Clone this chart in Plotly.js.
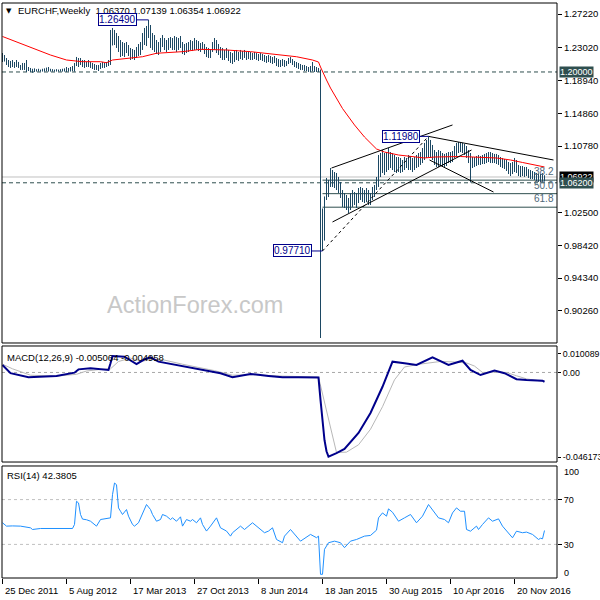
<!DOCTYPE html>
<html><head><meta charset="utf-8">
<script src="https://cdn.plot.ly/plotly-3.0.1.min.js"></script>
<style>html,body{margin:0;padding:0;background:#fff}#chart{width:600px;height:600px}</style>
</head><body><div id="chart"></div>
<script>
// ---- data (weekly bars, index 0 = week of 25 Dec 2011) ----
const xTickIdx = [0,32,64,96,128,160,192,224,256];
const xTickText = ['25 Dec 2011','5 Aug 2012','17 Mar 2013','27 Oct 2013','8 Jun 2014','18 Jan 2015','30 Aug 2015','10 Apr 2016','20 Nov 2016'];

const barOpen = [
1.2170,1.2150,1.2160,1.2110,1.2080,1.2110,1.2085,1.2070,1.2120,1.2070,
1.2050,1.2080,1.2040,1.2020,1.2030,1.2020,1.2015,1.2020,1.2012,1.2010,
1.2010,1.2012,1.2015,1.2020,1.2012,1.2010,1.2010,1.2010,1.2010,1.2010,
1.2011,1.2012,1.2020,1.2015,1.2010,1.2030,1.2060,1.2090,1.2150,1.2100,
1.2120,1.2100,1.2085,1.2100,1.2090,1.2070,1.2060,1.2050,1.2040,1.2050,
1.2080,1.2090,1.2085,1.2095,1.2090,1.2480,1.2430,1.2470,1.2350,1.2300,
1.2250,1.2300,1.2230,1.2320,1.2250,1.2180,1.2210,1.2230,1.2270,1.2310,
1.2340,1.2440,1.2500,1.2450,1.2520,1.2400,1.2360,1.2320,1.2340,1.2300,
1.2380,1.2350,1.2320,1.2300,1.2370,1.2380,1.2330,1.2400,1.2320,1.2360,
1.2400,1.2300,1.2280,1.2320,1.2330,1.2360,1.2320,1.2370,1.2340,1.2330,
1.2300,1.2320,1.2270,1.2230,1.2200,1.2250,1.2350,1.2300,1.2280,1.2260,
1.2220,1.2200,1.2180,1.2230,1.2170,1.2150,1.2140,1.2190,1.2210,1.2170,
1.2220,1.2190,1.2210,1.2180,1.2200,1.2170,1.2190,1.2200,1.2180,1.2160,
1.2190,1.2170,1.2160,1.2140,1.2150,1.2135,1.2120,1.2140,1.2100,1.2080,
1.2090,1.2100,1.2080,1.2090,1.2120,1.2140,1.2100,1.2080,1.2070,1.2060,
1.2050,1.2040,1.2030,1.2020,1.2015,1.2020,1.2030,1.2020,1.2010,1.2010,
1.0240,0.9980,1.0400,1.0550,1.0600,1.0650,1.0680,1.0620,1.0600,1.0520,
1.0460,1.0380,1.0330,1.0420,1.0300,1.0450,1.0380,1.0420,1.0400,1.0480,
1.0460,1.0420,1.0400,1.0480,1.0380,1.0420,1.0450,1.0530,1.0640,1.0900,
1.0800,1.0900,1.0850,1.0880,1.0920,1.0880,1.0850,1.0820,1.0800,1.0860,
1.0800,1.0830,1.0880,1.0840,1.0900,1.0860,1.0820,1.0880,1.0900,1.0940,
1.0960,1.1000,1.1050,1.1000,1.1120,1.0980,1.0950,1.0900,1.0880,1.0870,
1.0900,1.0860,1.0880,1.0900,1.0920,1.0940,1.0960,1.1030,1.1070,1.1100,
1.1080,1.1090,1.1050,1.0980,1.0900,1.0860,1.0870,1.0850,1.0880,1.0900,
1.0880,1.0910,1.0900,1.0940,1.0950,1.0920,1.0930,1.0910,1.0900,1.0880,
1.0850,1.0830,1.0820,1.0790,1.0760,1.0740,1.0770,1.0820,1.0770,1.0730,
1.0720,1.0740,1.0710,1.0730,1.0715,1.0700,1.0710,1.0690,1.0680,1.0660,
1.0650,1.0637];

const barHigh = [
1.2236,1.2211,1.2174,1.2149,1.2137,1.2149,1.2124,1.2149,1.2125,1.2087,
1.2112,1.2112,1.2149,1.2062,1.2050,1.2040,1.2045,1.2035,1.2040,1.2030,
1.2040,1.2045,1.2055,1.2062,1.2040,1.2035,1.2030,1.2035,1.2030,1.2035,
1.2040,1.2045,1.2062,1.2050,1.2062,1.2074,1.2112,1.2187,1.2174,1.2174,
1.2149,1.2149,1.2124,1.2149,1.2124,1.2112,1.2099,1.2087,1.2087,1.2112,
1.2124,1.2112,1.2124,1.2149,1.2523,1.2548,1.2523,1.2485,1.2448,1.2398,
1.2373,1.2361,1.2373,1.2336,1.2299,1.2286,1.2274,1.2311,1.2348,1.2373,
1.2485,1.2548,1.2573,1.2649,1.2585,1.2485,1.2460,1.2398,1.2373,1.2423,
1.2460,1.2423,1.2398,1.2423,1.2435,1.2423,1.2448,1.2435,1.2423,1.2448,
1.2373,1.2348,1.2361,1.2373,1.2398,1.2385,1.2423,1.2398,1.2385,1.2361,
1.2373,1.2348,1.2311,1.2299,1.2286,1.2373,1.2423,1.2398,1.2348,1.2311,
1.2299,1.2274,1.2299,1.2274,1.2249,1.2236,1.2261,1.2274,1.2249,1.2274,
1.2261,1.2274,1.2249,1.2261,1.2249,1.2236,1.2249,1.2236,1.2224,1.2236,
1.2224,1.2211,1.2199,1.2211,1.2199,1.2186,1.2199,1.2174,1.2161,1.2149,
1.2161,1.2149,1.2137,1.2174,1.2186,1.2161,1.2137,1.2124,1.2112,1.2099,
1.2087,1.2087,1.2074,1.2062,1.2074,1.2124,1.2074,1.2062,1.2050,1.2030,
1.0300,1.0450,1.0680,1.0655,1.0804,1.0779,1.0754,1.0742,1.0692,1.0630,
1.0530,1.0493,1.0468,1.0431,1.0493,1.0530,1.0505,1.0493,1.0555,1.0568,
1.0555,1.0530,1.0555,1.0530,1.0493,1.0568,1.0593,1.0692,1.0966,1.0991,
1.1028,1.0991,1.1003,1.1053,1.1003,1.0991,1.0966,1.0941,1.0941,1.0929,
1.0904,1.0941,1.0929,1.0966,1.0941,1.0929,1.0941,1.0966,1.0991,1.1003,
1.1053,1.1116,1.1153,1.1198,1.1153,1.1091,1.1028,1.1003,1.1028,1.1016,
1.0991,1.0979,1.0991,1.1003,1.1003,1.1016,1.1078,1.1116,1.1128,1.1128,
1.1116,1.1103,1.1078,1.1028,1.0991,1.0941,1.0941,1.0954,1.0966,1.0954,
1.0966,1.0979,1.0991,1.1003,1.1003,1.0991,1.0979,1.0979,1.0966,1.0941,
1.0929,1.0916,1.0904,1.0879,1.0866,1.0879,1.0929,1.0904,1.0842,1.0829,
1.0829,1.0817,1.0817,1.0790,1.0779,1.0767,1.0754,1.0742,1.0735,1.0730,
1.0740,1.0714];

const barLow = [
1.2124,1.2130,1.2087,1.2062,1.2050,1.2062,1.2050,1.2062,1.2050,1.2025,
1.2025,1.2025,1.2000,1.2012,1.2000,1.1990,1.2000,1.2005,1.2005,1.2005,
1.2005,1.2005,1.2008,1.2005,1.2005,1.2005,1.2005,1.2005,1.2005,1.2006,
1.2005,1.2005,1.2000,1.2005,1.2005,1.2010,1.2005,1.2074,1.2062,1.2087,
1.2062,1.2050,1.2062,1.2062,1.2050,1.2037,1.2025,1.2025,1.2012,1.2037,
1.2050,1.2050,1.2062,1.2074,1.2087,1.2330,1.2336,1.2299,1.2249,1.2186,
1.2199,1.2186,1.2236,1.2199,1.2149,1.2161,1.2149,1.2174,1.2199,1.2211,
1.2274,1.2336,1.2323,1.2423,1.2299,1.2274,1.2249,1.2224,1.2211,1.2249,
1.2311,1.2274,1.2249,1.2274,1.2299,1.2274,1.2274,1.2249,1.2274,1.2299,
1.2224,1.2211,1.2236,1.2249,1.2274,1.2261,1.2274,1.2274,1.2261,1.2249,
1.2274,1.2224,1.2186,1.2174,1.2174,1.2249,1.2274,1.2236,1.2211,1.2174,
1.2149,1.2149,1.2174,1.2137,1.2112,1.2099,1.2124,1.2149,1.2137,1.2161,
1.2149,1.2174,1.2149,1.2161,1.2149,1.2149,1.2161,1.2149,1.2137,1.2149,
1.2137,1.2124,1.2112,1.2124,1.2112,1.2099,1.2112,1.2074,1.2062,1.2062,
1.2074,1.2062,1.2074,1.2099,1.2112,1.2087,1.2062,1.2050,1.2037,1.2025,
1.2025,1.2012,1.2012,1.2000,1.2000,1.2008,1.2000,1.2000,1.2000,0.8687,
0.9771,0.9900,1.0406,1.0443,1.0568,1.0568,1.0555,1.0530,1.0493,1.0431,
1.0319,1.0306,1.0281,1.0244,1.0281,1.0319,1.0343,1.0306,1.0368,1.0406,
1.0381,1.0368,1.0381,1.0343,1.0343,1.0406,1.0443,1.0530,1.0568,1.0692,
1.0742,1.0717,1.0754,1.0779,1.0804,1.0779,1.0754,1.0742,1.0754,1.0742,
1.0754,1.0779,1.0804,1.0779,1.0779,1.0754,1.0779,1.0804,1.0817,1.0842,
1.0866,1.0904,1.0929,1.0941,1.0929,1.0904,1.0842,1.0817,1.0817,1.0829,
1.0817,1.0817,1.0829,1.0866,1.0866,1.0879,1.0929,1.0954,1.0991,1.1003,
1.0991,1.0966,1.0929,1.0866,1.0625,1.0804,1.0817,1.0829,1.0842,1.0842,
1.0854,1.0854,1.0866,1.0879,1.0866,1.0866,1.0866,1.0854,1.0842,1.0817,
1.0804,1.0792,1.0767,1.0729,1.0704,1.0729,1.0754,1.0742,1.0704,1.0692,
1.0704,1.0692,1.0704,1.0680,1.0667,1.0667,1.0655,1.0642,1.0630,1.0625,
1.0625,1.0635];

const barClose = [
1.2150,1.2160,1.2110,1.2080,1.2110,1.2085,1.2070,1.2120,1.2070,1.2050,
1.2080,1.2040,1.2020,1.2030,1.2020,1.2015,1.2020,1.2012,1.2010,1.2010,
1.2012,1.2015,1.2020,1.2012,1.2010,1.2010,1.2010,1.2010,1.2010,1.2011,
1.2012,1.2020,1.2015,1.2010,1.2030,1.2060,1.2090,1.2150,1.2100,1.2120,
1.2100,1.2085,1.2100,1.2090,1.2070,1.2060,1.2050,1.2040,1.2050,1.2080,
1.2090,1.2085,1.2095,1.2090,1.2480,1.2430,1.2470,1.2350,1.2300,1.2250,
1.2300,1.2230,1.2320,1.2250,1.2180,1.2210,1.2230,1.2270,1.2310,1.2340,
1.2440,1.2500,1.2450,1.2520,1.2400,1.2360,1.2320,1.2340,1.2300,1.2380,
1.2350,1.2320,1.2300,1.2370,1.2380,1.2330,1.2400,1.2320,1.2360,1.2400,
1.2300,1.2280,1.2320,1.2330,1.2360,1.2320,1.2370,1.2340,1.2330,1.2300,
1.2320,1.2270,1.2230,1.2200,1.2250,1.2350,1.2300,1.2280,1.2260,1.2220,
1.2200,1.2180,1.2230,1.2170,1.2150,1.2140,1.2190,1.2210,1.2170,1.2220,
1.2190,1.2210,1.2180,1.2200,1.2170,1.2190,1.2200,1.2180,1.2160,1.2190,
1.2170,1.2160,1.2140,1.2150,1.2135,1.2120,1.2140,1.2100,1.2080,1.2090,
1.2100,1.2080,1.2090,1.2120,1.2140,1.2100,1.2080,1.2070,1.2060,1.2050,
1.2040,1.2030,1.2020,1.2015,1.2020,1.2030,1.2020,1.2010,1.2010,1.0240,
0.9980,1.0400,1.0550,1.0600,1.0650,1.0680,1.0620,1.0600,1.0520,1.0460,
1.0380,1.0330,1.0420,1.0300,1.0450,1.0380,1.0420,1.0400,1.0480,1.0460,
1.0420,1.0400,1.0480,1.0380,1.0420,1.0450,1.0530,1.0640,1.0900,1.0800,
1.0900,1.0850,1.0880,1.0920,1.0880,1.0850,1.0820,1.0800,1.0860,1.0800,
1.0830,1.0880,1.0840,1.0900,1.0860,1.0820,1.0880,1.0900,1.0940,1.0960,
1.1000,1.1050,1.1000,1.1120,1.0980,1.0950,1.0900,1.0880,1.0870,1.0900,
1.0860,1.0880,1.0900,1.0920,1.0940,1.0960,1.1030,1.1070,1.1100,1.1080,
1.1090,1.1050,1.0980,1.0900,1.0860,1.0870,1.0850,1.0880,1.0900,1.0880,
1.0910,1.0900,1.0940,1.0950,1.0920,1.0930,1.0910,1.0900,1.0880,1.0850,
1.0830,1.0820,1.0790,1.0760,1.0740,1.0770,1.0820,1.0770,1.0730,1.0720,
1.0740,1.0710,1.0730,1.0715,1.0700,1.0710,1.0690,1.0680,1.0660,1.0650,
1.0637,1.0692];

// moving average (red)
const maIdx = [0,7,15,24,32,40,49,52,55,62,70,77,90,99,107,112,124,132,140,147,155,158,159,160,162,164,166,169,170,176,181,187,191,198,206,211,216,229,247,254,260,267,271];
const maVal = [1.2442,1.2377,1.2295,1.2211,1.2149,1.2128,1.2128,1.2115,1.2149,1.2170,1.2190,1.2233,1.2253,1.2282,1.2282,1.2274,1.2253,1.2233,1.2211,1.2190,1.2149,1.2124,1.2062,1.2000,1.1900,1.1800,1.1713,1.1601,1.1545,1.1340,1.1190,1.1041,1.1003,1.0966,1.0941,1.0929,1.0941,1.0947,1.0929,1.0904,1.0873,1.0842,1.0817];

// MACD(12,26,9)
const macdIdx = [0,4,13,27,36,38,44,52,53,54,55,61,67,71,74,78,90,97,105,109,115,120,124,133,140,148,157,158,159,160,161,162,163,167,171,178,184,190,195,201,207,215,223,230,234,239,246,251,257,262,270,271];
const macdVal = [0.0041,-0.0004,-0.0026,-0.0019,-0.0001,0.0017,0.0023,0.0014,0.0014,0.0050,0.0090,0.0086,0.0046,0.0072,0.0083,0.0059,0.0035,0.0023,0.0004,-0.0004,-0.0026,-0.0014,-0.0008,-0.0019,-0.0026,-0.0026,-0.0028,-0.0028,-0.0150,-0.0276,-0.0370,-0.0430,-0.0460,-0.0440,-0.0418,-0.0330,-0.0221,-0.0078,0.0059,0.0050,0.0041,0.0083,0.0041,0.0064,0.0014,-0.0014,0.0010,-0.0004,-0.0037,-0.0041,-0.0045,-0.005064];
const sigIdx = [0,5,14,27,37,42,50,54,58,64,70,75,80,90,106,115,125,140,158,167,172,178,184,190,196,201,209,219,225,232,236,240,247,252,257,262,271];
const sigVal = [0.0045,0.0020,-0.0015,-0.0020,-0.0010,0.0008,0.0018,0.0020,0.0060,0.0078,0.0062,0.0072,0.0070,0.0045,0.0010,-0.0015,-0.0012,-0.0020,-0.0025,-0.0437,-0.0435,-0.0395,-0.0310,-0.0187,-0.0040,0.0030,0.0046,0.0060,0.0058,0.0052,0.0035,0.0000,0.0002,0.0000,-0.0018,-0.0035,-0.004958];

// RSI(14)
const rsiIdx = [0,2,5,9,14,15,19,35,36,37,38,39,40,42,44,47,49,52,54,55,56,57,58,59,60,62,63,65,66,68,70,72,74,75,77,79,80,82,84,85,87,89,90,92,94,95,97,99,100,102,104,107,109,112,114,115,119,121,125,127,131,133,135,137,139,140,141,144,149,154,157,158,159,160,161,163,166,169,171,174,177,181,184,187,188,190,192,193,195,198,201,204,207,210,213,216,218,221,223,225,227,229,231,232,234,237,238,240,243,245,248,250,252,255,257,260,262,265,268,269,270,271];
const rsiVal = [49.3,46.3,46.5,46.3,44.8,43.3,44.2,44.2,47.8,68.5,67.0,56.7,52.6,52.0,50.7,46.3,52.2,53.1,53.7,74.4,84.8,83.3,62.6,59.6,56.7,61.1,55.2,47.8,46.3,49.3,56.7,65.6,61.1,56.7,50.7,52.2,56.7,55.2,52.2,53.7,50.7,54.6,46.3,52.2,50.7,52.2,49.3,53.7,47.8,41.9,46.3,53.7,44.8,41.9,37.4,40.4,46.3,43.3,49.3,46.3,40.4,41.9,44.8,34.4,32.9,31.5,37.4,43.3,32.9,38.9,36.0,37.4,3.3,3.3,25.6,31.5,32.9,31.5,27.1,32.9,34.4,37.4,38.0,42.7,53.7,58.1,55.2,61.7,58.7,50.7,53.7,56.7,49.3,55.2,65.6,58.1,53.7,52.2,49.3,58.1,62.6,59.6,59.6,43.3,41.8,46.3,43.3,47.8,53.7,50.7,52.8,46.3,41.8,35.9,41.8,40.4,41.0,38.9,34.4,35.5,35.0,42.38];

// axis tick values
const priceTicks = [1.2722,1.2302,1.1894,1.1486,1.1078,1.0250,0.9842,0.9434,0.9026,0.8618];
const macdTicks = [0.010089,0,-0.046173];
const macdTickText = ['0.010089','0.00','-0.046173'];
const rsiLevels = [70,30];

// horizontal levels
const floorLevel = 1.2000;
const supportLevel = 1.0620;
const lastPrice = 1.06922;

// Fibonacci anchors (low, high) and levels
const fibIdx = [160,213];
const fibVal = [0.9771,1.1198];
const fibRatios = [0.382,0.5,0.618];
const fibText = ['38.2','50.0','61.8'];

// trend lines: [idx0, price0, idx1, price1]
const trendUpper = [164.5,1.0804,225.0,1.1340];
const trendLower = [165.0,1.0132,234.5,1.1028];
const trendDownUpper = [213.0,1.1198,275.5,1.0904];
const trendDownLower = [213.5,1.0904,245.5,1.0505];

// labelled swing points
const swingIdx = [73,213,160];
const swingVal = [1.2649,1.1198,0.9771];
const swingText = ['1.26490','1.11980','0.97710'];

// ---- drawing ----
const barColor = '#1c4863';
const idx = barClose.map((_, i) => i);
const xRange = [-0.25, 277.25];
const mainDom = [0.4087, 1], macdDom = [0.2017, 0.4035], rsiDom = [0, 0.1948];
const FONT = 'Liberation Sans, Arial, sans-serif';

const traces = [
  {type:'ohlc', x:idx, open:barOpen, high:barHigh, low:barLow, close:barClose,
   xaxis:'x', yaxis:'y', tickwidth:0,
   increasing:{line:{color:barColor,width:1}}, decreasing:{line:{color:barColor,width:1}},
   hoverinfo:'skip'},
  {type:'scatter', mode:'lines', x:maIdx, y:maVal, xaxis:'x', yaxis:'y',
   line:{color:'#ff0000', width:1}, hoverinfo:'skip'},
  {type:'scatter', mode:'lines', x:sigIdx, y:sigVal, xaxis:'x', yaxis:'y2',
   line:{color:'#b8b8b8', width:1}, hoverinfo:'skip'},
  {type:'scatter', mode:'lines', x:macdIdx, y:macdVal, xaxis:'x', yaxis:'y2',
   line:{color:'#00008b', width:2}, hoverinfo:'skip'},
  {type:'scatter', mode:'lines', x:rsiIdx, y:rsiVal, xaxis:'x', yaxis:'y3',
   line:{color:'#1e90ff', width:1}, hoverinfo:'skip'}
];

const shapes = [];
function hline(y, yref, color, dash, x0) {
  shapes.push({type:'line', xref:'x', yref:yref, x0:(x0===undefined?xRange[0]:x0), x1:xRange[1], y0:y, y1:y,
               line:{color:color, width:1, dash:dash||'solid'}, layer:'below'});
}
hline(lastPrice, 'y', '#c0c0c0');
hline(floorLevel, 'y', '#2f4f4f', '4px,3px');
hline(supportLevel, 'y', '#2f4f4f', '4px,3px');
const fibRange = fibVal[1] - fibVal[0];
fibRatios.forEach(r => hline(fibVal[1] - r*fibRange, 'y', '#2f4f4f', 'solid', fibIdx[0]));
shapes.push({type:'line', xref:'x', yref:'y', x0:fibIdx[0], y0:fibVal[0], x1:fibIdx[1], y1:fibVal[1],
             line:{color:'#000', width:1, dash:'3px,3px'}});
[trendUpper, trendLower, trendDownUpper, trendDownLower].forEach(t => {
  shapes.push({type:'line', xref:'x', yref:'y', x0:t[0], y0:t[1], x1:t[2], y1:t[3], line:{color:'#000', width:1}});
});
hline(0, 'y2', '#a8a8a8', '3px,3px');
rsiLevels.forEach(v => hline(v, 'y3', '#c0c0c0', '3px,3px'));
[mainDom, macdDom, rsiDom].forEach(d => {
  shapes.push({type:'rect', xref:'paper', yref:'paper', x0:0, x1:1, y0:d[0], y1:d[1],
               line:{color:'#000', width:1}, fillcolor:'rgba(0,0,0,0)'});
});

const ann = [];
// x labels, left aligned at their tick
xTickIdx.forEach((v, k) => ann.push({xref:'x', yref:'paper', x:v, y:0, yshift:-12, xanchor:'left', yanchor:'middle',
  text:xTickText[k], showarrow:false, font:{family:FONT, size:9.5, color:'#000'}}));
// header texts
ann.push({xref:'paper', yref:'paper', x:0, y:0.9861, xshift:2, xanchor:'left', yanchor:'middle', showarrow:false,
  text:'▼', font:{family:'DejaVu Sans', size:7, color:'#000'}});
ann.push({xref:'paper', yref:'paper', x:0, y:0.9861, xshift:14, xanchor:'left', yanchor:'middle', showarrow:false,
  text:'EURCHF,Weekly  1.06370 1.07139 1.06354 1.06922', font:{family:FONT, size:9.5, color:'#000'}});
ann.push({xref:'paper', yref:'paper', x:0, y:(578-357)/575, xshift:3, xanchor:'left', yanchor:'middle', showarrow:false,
  text:'MACD(12,26,9) -0.005064 -0.004958', font:{family:FONT, size:9.5, color:'#000'}});
ann.push({xref:'paper', yref:'paper', x:0, y:(578-475)/575, xshift:3, xanchor:'left', yanchor:'middle', showarrow:false,
  text:'RSI(14) 42.3805', font:{family:FONT, size:9.5, color:'#000'}});
// watermark
ann.push({xref:'paper', yref:'paper', x:(195-2)/555, y:(578-305)/575, xanchor:'center', yanchor:'middle', showarrow:false,
  text:'ActionForex.com', font:{family:FONT, size:23.5, color:'#c8c8c8'}});
// RSI 100 / 0 labels
ann.push({xref:'paper', yref:'y3', x:1, y:100, xshift:5, yshift:-6, xanchor:'left', yanchor:'middle', showarrow:false,
  text:'100', font:{family:FONT, size:9, color:'#000'}});
ann.push({xref:'paper', yref:'y3', x:1, y:0, xshift:5, yshift:5, xanchor:'left', yanchor:'middle', showarrow:false,
  text:'0', font:{family:FONT, size:9, color:'#000'}});
// fib level labels
fibRatios.forEach((r, k) => ann.push({xref:'x', yref:'y', x:xRange[1], y:fibVal[1]-r*fibRange, xanchor:'right', yanchor:'bottom',
  xshift:-1, yshift:1, showarrow:false, text:fibText[k], font:{family:FONT, size:10, color:'#4f6878'}}));
// swing labels
const swingAx = [-31, -28, -30];
swingIdx.forEach((v, k) => ann.push({xref:'x', yref:'y', x:v, y:swingVal[k], ax:swingAx[k], ay:0, axref:'pixel', ayref:'pixel',
  showarrow:true, arrowhead:0, arrowwidth:1, arrowcolor:'#00008b', text:swingText[k],
  font:{family:FONT, size:10, color:'#00008b'}, bgcolor:'#fff', bordercolor:'#00008b', borderwidth:1, borderpad:0}));
// price tags on the right axis
function tag(y, bg, txt) {
  ann.push({xref:'paper', yref:'y', x:1, y:y, xshift:2, xanchor:'left', yanchor:'middle', showarrow:false,
    text:txt, bgcolor:bg, borderpad:0, font:{family:FONT, size:9, color:'#fff'}});
}
tag(floorLevel, '#2f4f4f', floorLevel.toFixed(5));
tag(lastPrice, '#000', lastPrice.toFixed(5));
tag(supportLevel, '#2f4f4f', supportLevel.toFixed(5));

const yCommon = {side:'right', anchor:'x', showgrid:false, zeroline:false, ticks:'outside', ticklen:4, tickcolor:'#000',
  tickwidth:1, showline:false, tickfont:{family:FONT, size:9.5, color:'#000'}, fixedrange:true};

const layout = {
  width:600, height:600, margin:{l:2, r:43, t:3, b:22}, paper_bgcolor:'#fff', plot_bgcolor:'#fff',
  showlegend:false, font:{family:FONT, size:9.5, color:'#000'},
  xaxis:{domain:[0,1], range:xRange, anchor:'y3', showgrid:false, zeroline:false, tickmode:'array', tickvals:xTickIdx,
    ticks:'outside', ticklen:5, tickcolor:'#000', showticklabels:false, rangeslider:{visible:false}, fixedrange:true, showline:false},
  yaxis:Object.assign({}, yCommon, {domain:mainDom, range:[0.86249, 1.28590], tickmode:'array', tickvals:priceTicks,
    ticktext:priceTicks.map(v => v.toFixed(5))}),
  yaxis2:Object.assign({}, yCommon, {domain:macdDom, range:[-0.04890, 0.01446], tickmode:'array', tickvals:macdTicks, ticktext:macdTickText,
    ticklen:3, tickfont:{family:FONT, size:8.8, color:'#000'}}),
  yaxis3:Object.assign({}, yCommon, {domain:rsiDom, range:[0, 100], tickmode:'array', tickvals:rsiLevels, ticktext:rsiLevels.map(String),
    tickfont:{family:FONT, size:9, color:'#000'}}),
  shapes:shapes, annotations:ann
};

Plotly.newPlot('chart', traces, layout, {displayModeBar:false, staticPlot:true});
</script>
</body></html>
